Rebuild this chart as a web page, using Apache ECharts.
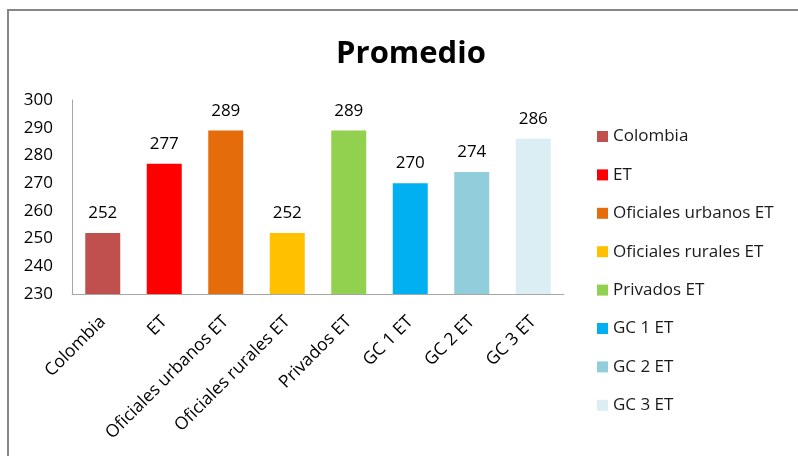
<!DOCTYPE html>
<html>
<head>
<meta charset="utf-8">
<script src="https://cdn.jsdelivr.net/npm/echarts@6/dist/echarts.min.js"></script>
<style>
  html, body { margin: 0; padding: 0; background: #fff; }
  #chart { width: 798px; height: 456px; }
</style>
</head>
<body>
<div id="chart"></div>
<script>
(function () {
  // datos del grafico
  var categories = ['Colombia', 'ET', 'Oficiales urbanos ET', 'Oficiales rurales ET',
    'Privados ET', 'GC 1 ET', 'GC 2 ET', 'GC 3 ET'];
  var values = [252, 277, 289, 252, 289, 270, 274, 286];
  var colors = ['#C0504D', '#FF0000', '#E46C0A', '#FFC000', '#92D050', '#00B0F0', '#92CDDC', '#DAEEF3'];
  var yTicks = { min: 230, max: 300, interval: 10 };

  var font = '"Open Sans", "Liberation Sans", sans-serif';

  // una serie por categoria para que la leyenda muestre cada barra
  var series = [];
  for (var i = 0; i < categories.length; i++) {
    var d = [];
    for (var j = 0; j < categories.length; j++) {
      d.push(j === i ? values[i] : '-');
    }
    series.push({
      name: categories[i],
      type: 'bar',
      stack: 'total',
      barWidth: 35,
      itemStyle: { color: colors[i] },
      label: {
        show: true,
        position: 'top',
        distance: 11,
        color: '#000',
        fontSize: 17,
        fontFamily: font
      },
      data: d
    });
  }

  var chart = echarts.init(document.getElementById('chart'));
  chart.setOption({
    animation: false,
    title: {
      text: 'Promedio',
      left: 406,
      textAlign: 'center',
      top: 34,
      textStyle: { fontSize: 31, fontWeight: 'bold', color: '#000', fontFamily: font }
    },
    graphic: [{
      type: 'rect',
      shape: { x: 8, y: 10, width: 820, height: 480 },
      style: { fill: 'none', stroke: '#868686', lineWidth: 2 },
      silent: true
    }],
    legend: {
      orient: 'vertical',
      left: 592,
      top: 123,
      itemWidth: 11,
      itemHeight: 11,
      itemGap: 21.4,
      icon: 'rect',
      textStyle: { fontSize: 17, color: '#1a1a1a', fontFamily: font, lineHeight: 17 },
      data: categories
    },
    grid: { left: 72, right: 234, top: 100, bottom: 162 },
    xAxis: {
      type: 'category',
      data: categories,
      axisLine: { lineStyle: { color: '#A6A6A6', width: 1 } },
      axisTick: { show: false },
      axisLabel: {
        interval: 0,
        rotate: 45,
        margin: 25,
        fontSize: 17.5,
        color: '#000',
        fontFamily: font
      }
    },
    yAxis: {
      type: 'value',
      min: yTicks.min,
      max: yTicks.max,
      interval: yTicks.interval,
      axisLine: { show: true, lineStyle: { color: '#A6A6A6', width: 1 } },
      axisTick: { show: false },
      splitLine: { show: false },
      axisLabel: { margin: 19, fontSize: 17, color: '#000', fontFamily: font }
    },
    series: series
  });
})();
</script>
</body>
</html>
